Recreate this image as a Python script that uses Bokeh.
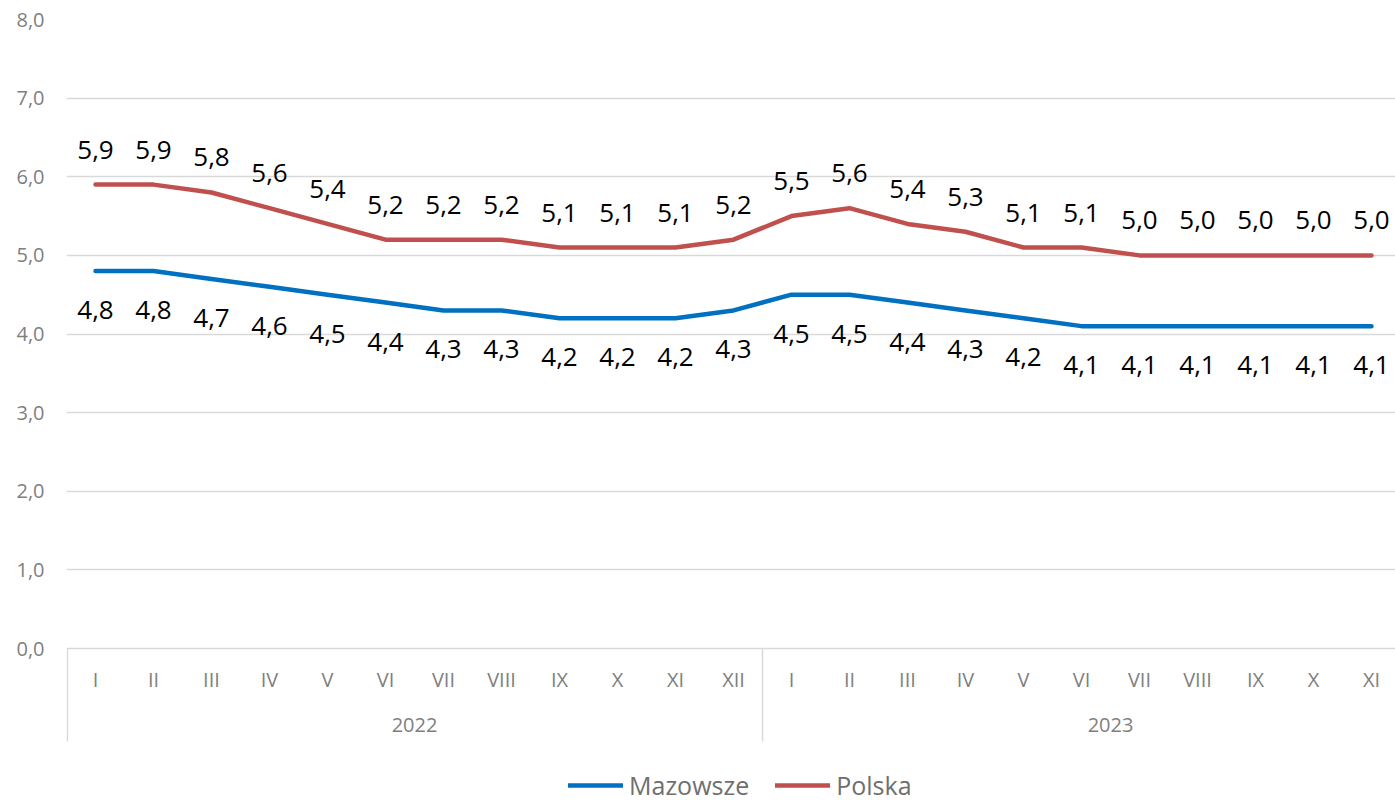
from bokeh.plotting import figure
from bokeh.models import (Range1d, FixedTicker, LinearAxis, Legend, LegendItem,
                          ColumnDataSource)
from bokeh.core.properties import value
from bokeh.embed import file_html
from bokeh.resources import INLINE

# ---- data ----
months = ["I", "II", "III", "IV", "V", "VI", "VII", "VIII", "IX", "X", "XI", "XII",
          "I", "II", "III", "IV", "V", "VI", "VII", "VIII", "IX", "X", "XI"]
years = ["2022", "2023"]
year_counts = [12, 11]
mazowsze = [4.8, 4.8, 4.7, 4.6, 4.5, 4.4, 4.3, 4.3, 4.2, 4.2, 4.2, 4.3,
            4.5, 4.5, 4.4, 4.3, 4.2, 4.1, 4.1, 4.1, 4.1, 4.1, 4.1]
polska = [5.9, 5.9, 5.8, 5.6, 5.4, 5.2, 5.2, 5.2, 5.1, 5.1, 5.1, 5.2,
          5.5, 5.6, 5.4, 5.3, 5.1, 5.1, 5.0, 5.0, 5.0, 5.0, 5.0]
y_ticks = [0, 1, 2, 3, 4, 5, 6, 7, 8]

FONT = "Open Sans"
AXIS_COL = "#7f7f7f"
GRID_COL = "#d9d9d9"
BLUE = "#0070C0"
RED = "#C0504D"


def fmt(v):
    return f"{v:.1f}".replace(".", ",")


x = list(range(len(months)))
src = ColumnDataSource(dict(
    x=x, maz=mazowsze, pol=polska,
    maz_lbl=[fmt(v) for v in mazowsze],
    pol_lbl=[fmt(v) for v in polska],
))

# geometry
W, H = 1395, 805
TOP = 19
LEFT = 66
PX_PER_UNIT = 629 / 8.0
PX_PER_CAT = 58.0
y_bottom = -(H - TOP - 629) / PX_PER_UNIT
sep_bottom = -93 / PX_PER_UNIT
x_end = -0.5 + (W - LEFT) / PX_PER_CAT

p = figure(width=W, height=H, x_range=Range1d(-0.5, x_end),
           y_range=Range1d(y_bottom, 8), output_backend="svg",
           toolbar_location=None, min_border_left=LEFT, min_border_right=0,
           min_border_top=TOP, min_border_bottom=0, outline_line_color=None,
           background_fill_color="white", border_fill_color="white")

# y axis
yt = FixedTicker(ticks=y_ticks)
p.yaxis.ticker = yt
p.yaxis.major_label_overrides = {t: fmt(t) for t in y_ticks}
p.yaxis.axis_line_color = None
p.yaxis.major_tick_line_color = None
p.yaxis.minor_tick_line_color = None
p.yaxis.major_label_standoff = 16
p.yaxis.major_label_text_font = FONT
p.yaxis.major_label_text_font_size = "20px"
p.yaxis.major_label_text_color = AXIS_COL
p.ygrid.ticker = yt
p.ygrid.grid_line_color = GRID_COL
p.ygrid.grid_line_width = 1.5
p.xgrid.visible = False

# month axis pinned at y=0
p.xaxis.fixed_location = 0
p.xaxis.ticker = FixedTicker(ticks=x)
p.xaxis.major_label_overrides = {i: m for i, m in enumerate(months)}
p.xaxis.axis_line_color = None
p.xaxis.major_tick_line_color = None
p.xaxis.minor_tick_line_color = None
p.xaxis.major_label_standoff = 11
p.xaxis.major_label_text_font = FONT
p.xaxis.major_label_text_font_size = "20px"
p.xaxis.major_label_text_color = AXIS_COL

# year axis
centers = []
start = 0
for c in year_counts:
    centers.append(start + (c - 1) / 2.0 if c == 12 else start + c / 2.0)
    start += c
year_axis = LinearAxis(fixed_location=0, ticker=FixedTicker(ticks=centers),
                       major_label_overrides={c: y for c, y in zip(centers, years)},
                       axis_line_color=None, major_tick_line_color=None,
                       minor_tick_line_color=None, major_label_standoff=63,
                       major_label_text_font=FONT, major_label_text_font_size="20px",
                       major_label_text_color=AXIS_COL)
p.add_layout(year_axis, "below")

# group separators
seps = [-0.485]
start = 0
for c in year_counts:
    start += c
    seps.append(start - 0.5)
p.segment(x0=seps, y0=[0] * len(seps), x1=seps, y1=[sep_bottom] * len(seps),
          line_color=GRID_COL, line_width=1.5)

# series
r_m = p.line("x", "maz", source=src, line_color=BLUE, line_width=4.5,
             line_join="round", line_cap="round")
r_p = p.line("x", "pol", source=src, line_color=RED, line_width=4.5,
             line_join="round", line_cap="round")

p.text("x", "pol", text="pol_lbl", source=src, text_align="center",
       text_baseline="middle", y_offset=-35, text_font=value(FONT),
       text_font_size="26px", text_color="black")
p.text("x", "maz", text="maz_lbl", source=src, text_align="center",
       text_baseline="middle", y_offset=39, text_font=value(FONT),
       text_font_size="26px", text_color="black")

legend = Legend(items=[LegendItem(label="Mazowsze", renderers=[r_m]),
                       LegendItem(label="Polska", renderers=[r_p])],
                orientation="horizontal", location=(502, 3), glyph_width=55,
                glyph_height=20, label_standoff=6, spacing=26, padding=0, margin=0,
                border_line_color=None, background_fill_alpha=0,
                label_text_font=FONT, label_text_font_size="25px",
                label_text_color="#6f6f6f")
p.add_layout(legend)

open("out.html", "w").write(file_html(p, INLINE))
